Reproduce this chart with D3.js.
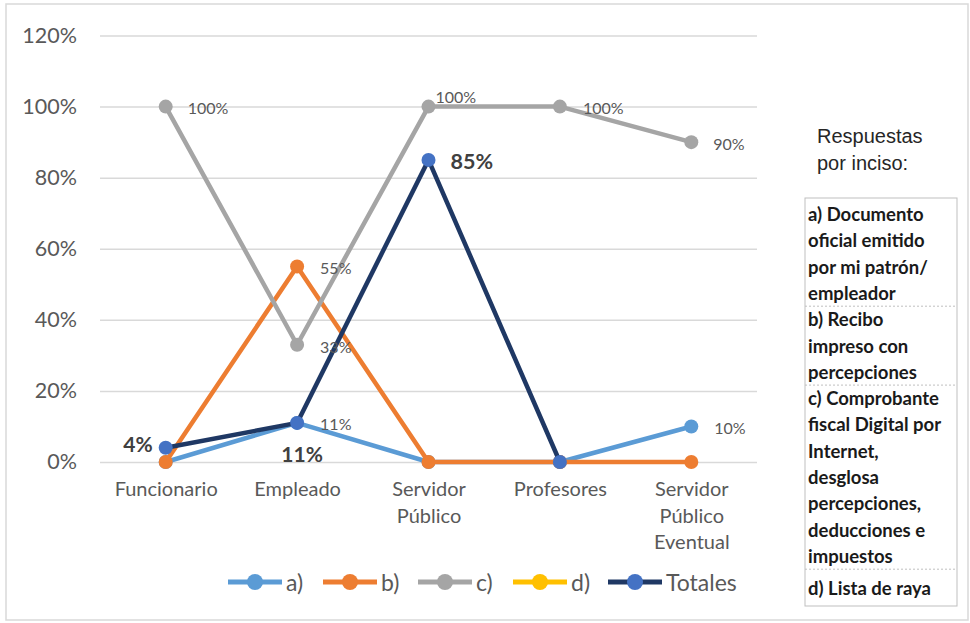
<!DOCTYPE html>
<html><head><meta charset="utf-8">
<script src="https://cdn.jsdelivr.net/npm/d3@7"></script>
<style>body{margin:0;background:#fff}svg{display:block}</style>
</head><body>
<svg id="c" width="970" height="623"></svg>
<script>
const categories = ["Funcionario", "Empleado", "Servidor Público", "Profesores", "Servidor Público Eventual"];
const categoryLines = [["Funcionario"], ["Empleado"], ["Servidor", "Público"], ["Profesores"], ["Servidor", "Público", "Eventual"]];
const seriesA = [0, 0.11, 0, 0, 0.10];
const seriesB = [0, 0.55, 0, 0, 0];
const seriesC = [1.00, 0.33, 1.00, 1.00, 0.90];
const seriesD = [null, null, null, null, null];
const totales = [0.04, 0.11, 0.85, 0, null];
const yTicks = [0, 0.2, 0.4, 0.6, 0.8, 1.0, 1.2];
const legendNames = ["a)", "b)", "c)", "d)", "Totales"];
const noteTitle = ["Respuestas", "por inciso:"];
const noteGroups = [
  ["a) Documento", "oficial emitido", "por mi patrón/", "empleador"],
  ["b) Recibo", "impreso con", "percepciones"],
  ["c) Comprobante", "fiscal Digital por", "Internet,", "desglosa", "percepciones,", "deducciones e", "impuestos"],
  ["d) Lista de raya"]
];

const svg = d3.select("#c");
const FONT = "Lato, 'Open Sans', sans-serif";

// outer frame
svg.append("rect").attr("x", 6).attr("y", 4).attr("width", 962).attr("height", 616)
  .attr("fill", "#fff").attr("stroke", "#d9d9d9").attr("stroke-width", 1.5);

const x = d3.scalePoint().domain(categories).range([100, 757]).padding(0.5);
const y = d3.scaleLinear().domain([0, 1.2]).range([462, 35.5]);

// gridlines + y axis
const gy = svg.append("g").attr("transform", "translate(100,0)")
  .call(d3.axisLeft(y).tickValues(yTicks).tickFormat(d3.format(".0%")).tickSize(-657).tickPadding(23));
gy.select(".domain").remove();
gy.selectAll(".tick line").attr("stroke", "#d9d9d9").attr("stroke-width", 1.5);
gy.selectAll(".tick text").attr("fill", "#595959").attr("font-family", FONT).attr("font-size", 21.5);

// x axis labels
const gx = svg.append("g").attr("transform", "translate(0,462)")
  .call(d3.axisBottom(x).tickSize(0).tickPadding(0));
gx.select(".domain").remove();
gx.selectAll(".tick text").each(function(d, i) {
  const t = d3.select(this).text(null).attr("fill", "#595959").attr("font-family", FONT).attr("font-size", 20).attr("y", 0).attr("dy", null);
  categoryLines[i].forEach((ln, k) => {
    t.append("tspan").attr("x", 0).attr("y", 34 + k * 26.5).text(ln);
  });
});

const series = [
  { name: "a)", values: seriesA, line: "#5b9bd5", marker: "#5b9bd5" },
  { name: "b)", values: seriesB, line: "#ed7d31", marker: "#ed7d31" },
  { name: "c)", values: seriesC, line: "#a5a5a5", marker: "#a5a5a5" },
  { name: "d)", values: seriesD, line: "#ffc000", marker: "#ffc000" },
  { name: "Totales", values: totales, line: "#1f3864", marker: "#4472c4" }
];

const lineGen = d3.line().defined(d => d.v != null).x(d => x(d.c)).y(d => y(d.v));
series.forEach(s => {
  const pts = categories.map((c, i) => ({ c, v: s.values[i] }));
  svg.append("path").datum(pts).attr("d", lineGen).attr("fill", "none")
    .attr("stroke", s.line).attr("stroke-width", 4.5).attr("stroke-linejoin", "round");
  svg.append("g").selectAll("circle").data(pts.filter(d => d.v != null)).join("circle")
    .attr("cx", d => x(d.c)).attr("cy", d => y(d.v)).attr("r", 7).attr("fill", s.marker);
});

// data labels
const fmt = d3.format(".0%");
function lbl(values, idx, dx, dy, opts = {}) {
  const v = values[idx];
  svg.append("text").attr("x", x(categories[idx]) + dx).attr("y", y(v) + dy)
    .attr("dominant-baseline", "central").attr("text-anchor", opts.anchor || "start")
    .attr("font-family", FONT).attr("font-size", opts.size || 16)
    .attr("font-weight", opts.bold ? 700 : 400).attr("fill", opts.fill || "#595959")
    .text(fmt(v));
}
lbl(seriesC, 0, 22, 1);
lbl(seriesC, 1, 23, 2);
lbl(seriesC, 2, 7, -10);
lbl(seriesC, 3, 23, 1);
lbl(seriesC, 4, 22, 1);
lbl(seriesB, 1, 23, 1);
lbl(seriesA, 1, 23, 1);
lbl(seriesA, 4, 23, 1);
lbl(totales, 0, -13, -4, { anchor: "end", bold: true, size: 21, fill: "#404040" });
lbl(totales, 1, 5, 31, { anchor: "middle", bold: true, size: 21, fill: "#404040" });
lbl(totales, 2, 22, 1, { bold: true, size: 21.5, fill: "#404040" });

// legend
const legX = [228, 323, 418, 513, 608];
series.forEach((s, i) => {
  const g = svg.append("g").attr("transform", `translate(${legX[i]},582)`);
  g.append("line").attr("x1", 0).attr("x2", 54).attr("stroke", s.line).attr("stroke-width", 5);
  g.append("circle").attr("cx", 27).attr("r", 8).attr("fill", s.marker);
  g.append("text").attr("x", 58).attr("dominant-baseline", "central").attr("font-family", FONT)
    .attr("font-size", 23).attr("fill", "#595959").text(legendNames[i]);
});

// note title
noteTitle.forEach((t, i) => {
  svg.append("text").attr("x", 817).attr("y", 136 + i * 27).attr("dominant-baseline", "central")
    .attr("font-family", "'Liberation Sans', Arial, sans-serif").attr("font-size", 20).attr("fill", "#262626").text(t);
});

// note box
svg.append("rect").attr("x", 805).attr("y", 198).attr("width", 152).attr("height", 408)
  .attr("fill", "#fff").attr("stroke", "#bfbfbf").attr("stroke-width", 1);
let yy = 214;
const step = 26.3;
noteGroups.forEach((grp, gi) => {
  grp.forEach(t => {
    svg.append("text").attr("x", 808).attr("y", yy).attr("dominant-baseline", "central")
      .attr("font-family", FONT).attr("font-size", 18.5).attr("font-weight", 700).attr("fill", "#1a1a1a").text(t);
    yy += step;
  });
  if (gi < noteGroups.length - 1) {
    svg.append("line").attr("x1", 805).attr("x2", 957).attr("y1", yy - 13).attr("y2", yy - 13)
      .attr("stroke", "#bfbfbf").attr("stroke-dasharray", "2,2");
    if (gi === 2) yy += 6;
  }
});
</script>
</body></html>
